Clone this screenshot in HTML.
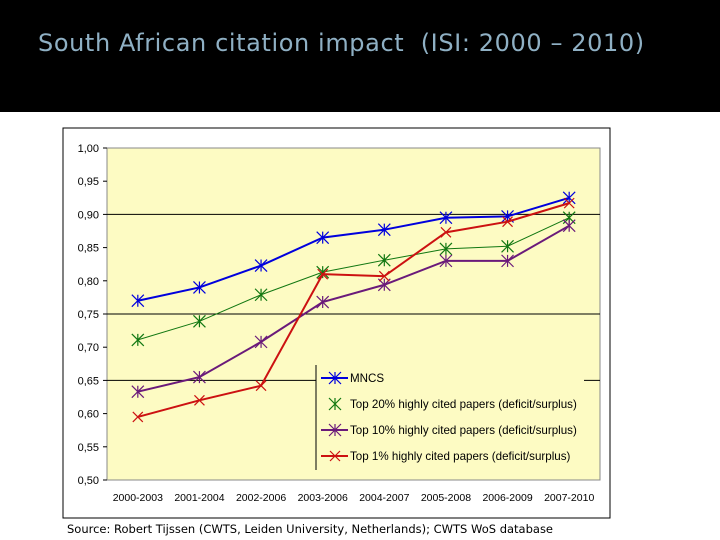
<!DOCTYPE html>
<html><head><meta charset="utf-8"><style>
body{margin:0;width:720px;height:540px;background:#fff;overflow:hidden;font-family:"Liberation Sans",sans-serif}
#hdr{position:absolute;left:0;top:0;width:720px;height:112px;background:#000}
#title{position:absolute;left:38px;top:29px;color:#8fb0c4;font-size:24px;font-family:"DejaVu Sans","Liberation Sans",sans-serif;letter-spacing:0.6px;white-space:pre}
svg{position:absolute;left:0;top:0}
</style></head><body>
<div id="hdr"></div>
<div id="title">South African citation impact  (ISI: 2000 – 2010)</div>
<svg id="ch" width="720" height="540"></svg>
<script>
const categories=["2000-2003","2001-2004","2002-2006","2003-2006","2004-2007","2005-2008","2006-2009","2007-2010"];
const mncs=[0.770,0.790,0.823,0.865,0.877,0.895,0.897,0.925];
const top20=[0.711,0.739,0.779,0.813,0.831,0.848,0.852,0.895];
const top10=[0.633,0.655,0.708,0.768,0.794,0.830,0.830,0.883];
const top1=[0.595,0.620,0.642,0.810,0.807,0.873,0.889,0.917];
const yTicks=["1,00","0,95","0,90","0,85","0,80","0,75","0,70","0,65","0,60","0,55","0,50"];
const gridVals=[0.90,0.75,0.65];
const NS="http://www.w3.org/2000/svg",svg=document.getElementById('ch');
const L=107,R=600,T=148,B=480;
const x=i=>L+(R-L)/categories.length*(i+0.5);
const y=v=>T+(1-v)/0.5*(B-T);
function el(t,a,p){const e=document.createElementNS(NS,t);for(const k in a)e.setAttribute(k,a[k]);(p||svg).appendChild(e);return e;}
let r=el('rect',{x:63,y:128,width:547,height:390,fill:'#fff',stroke:'#000','stroke-width':1});

r=el('rect',{x:L,y:T,width:R-L,height:B-T,fill:'#fdfbc3',stroke:'#888','stroke-width':1});

gridVals.forEach(v=>{const g=el('line',{x1:L,x2:R,y1:y(v),y2:y(v),stroke:'#000','stroke-width':1});
});
yTicks.forEach((t,i)=>{const v=1-i*0.05;
el('line',{x1:L-4,x2:L,y1:y(v),y2:y(v),stroke:'#000'});
const tx=el('text',{x:L-8,y:y(v)+4,'text-anchor':'end','font-size':11,fill:'#000'});tx.textContent=t;
});
categories.forEach((c,i)=>{const tx=el('text',{x:x(i),y:501,'text-anchor':'middle','font-size':10.5,fill:'#000'});tx.textContent=c;
});
function star(cx,cy,col,g){const s=6;
el('path',{d:`M${cx-s} ${cy-s}L${cx+s} ${cy+s}M${cx-s} ${cy+s}L${cx+s} ${cy-s}M${cx} ${cy-s}V${cy+s}`,stroke:col,'stroke-width':1.2,fill:'none'},g);}
function cross(cx,cy,col,g){const s=5;
el('path',{d:`M${cx-s} ${cy-s}L${cx+s} ${cy+s}M${cx-s} ${cy+s}L${cx+s} ${cy-s}`,stroke:col,'stroke-width':1.2,fill:'none'},g);}
const series=[[mncs,'#0000dd',2,star,'series-mncs'],[top20,'#117711',1,star,'series-top20'],[top10,'#6a1a7a',2,star,'series-top10'],[top1,'#cc1111',2,cross,'series-top1']];
series.forEach(([d,col,w,m,n])=>{const g=el('g',{});
el('polyline',{points:d.map((v,i)=>x(i)+','+y(v)).join(' '),fill:'none',stroke:col,'stroke-width':w},g);
d.forEach((v,i)=>m(x(i),y(v),col,g));});
const lg=el('g',{});
el('rect',{x:316,y:365,width:268,height:105,fill:'#fdfbc3'},lg);
el('line',{x1:316,x2:316,y1:365,y2:470,stroke:'#000'},lg);
const names=["MNCS","Top 20% highly cited papers (deficit/surplus)","Top 10% highly cited papers (deficit/surplus)","Top 1% highly cited papers (deficit/surplus)"];
series.forEach(([d,col,w,m,n],i)=>{const yy=378+i*26;const e=el('g',{},lg);

if(i!==1)el('line',{x1:321,x2:348,y1:yy,y2:yy,stroke:col,'stroke-width':w},e);
m(335,yy,col,e);
const t=el('text',{x:350,y:yy+4,'font-size':11.6,fill:'#000'},e);t.textContent=names[i];});
el('line',{x1:63,x2:610,y1:518,y2:518,stroke:'#000'});
const src=el('text',{x:67,y:533,'font-size':11.5,fill:'#000','font-family':'DejaVu Sans, sans-serif'});
src.textContent="Source: Robert Tijssen (CWTS, Leiden University, Netherlands); CWTS WoS database";

</script>
</body></html>
